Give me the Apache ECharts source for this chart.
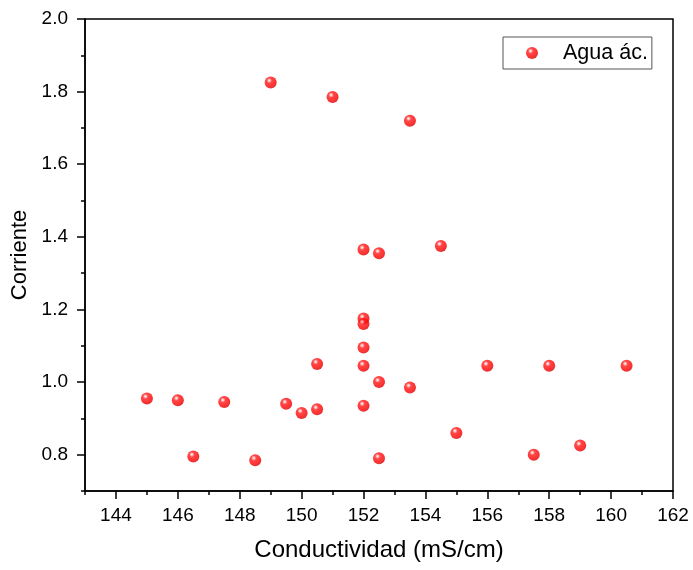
<!DOCTYPE html>
<html><head><meta charset="utf-8">
<script src="https://cdn.jsdelivr.net/npm/echarts@6/dist/echarts.min.js"></script>
<style>html,body{margin:0;padding:0;background:#fff}#c{width:693px;height:570px}</style>
</head><body><div id="c"></div>
<script>
const seriesName = 'Agua ác.';
const conductividad = [145.0,146.0,146.5,147.5,148.5,149.0,149.5,150.0,150.5,150.5,151.0,152.0,152.0,152.0,152.0,152.0,152.0,152.5,152.5,152.5,153.5,153.5,154.5,155.0,156.0,157.5,158.0,159.0,160.5];
const corriente = [0.955,0.95,0.795,0.945,0.785,1.825,0.94,0.915,1.05,0.925,1.785,1.365,1.175,1.16,1.095,1.045,0.935,1.355,1.0,0.79,1.72,0.985,1.375,0.86,1.045,0.80,1.045,0.825,1.045];
const xMajor = [144,146,148,150,152,154,156,158,160,162];
const xMinor = [143,145,147,149,151,153,155,157,159,161];
const yMajor = [0.8,1.0,1.2,1.4,1.6,1.8,2.0];
const yMinor = [0.7,0.9,1.1,1.3,1.5,1.7,1.9];

const font = '"Liberation Sans", Arial, sans-serif';
const chart = echarts.init(document.getElementById('c'), null, {renderer:'canvas'});
const data = conductividad.map((x,i)=>[x, corriente[i]]);
const ballColor = {type:'radial', x:0.38, y:0.33, r:0.72, colorStops:[
  {offset:0, color:'#ffffff'},{offset:0.1, color:'#ffc0c0'},{offset:0.3, color:'#ff1a1a'},{offset:0.7, color:'#ff0000'},{offset:1, color:'#d00000'}]};
chart.setOption({
  animation:false,
  grid:{left:85, right:20, top:19, bottom:79, show:true, borderColor:'#000', borderWidth:1.5, backgroundColor:'transparent'},
  legend:{left:503, top:37, data:[seriesName], itemWidth:52, itemHeight:12, padding:[5,4,5,23],
    borderColor:'#555', borderWidth:1, textStyle:{fontFamily:font, fontSize:21.5, color:'#000'}},
  xAxis:[{type:'value', min:143, max:162, position:'bottom',
    name:'Conductividad (mS/cm)', nameLocation:'middle', nameGap:47,
    nameTextStyle:{fontFamily:font, fontSize:24, color:'#000'},
    axisLine:{show:true, onZero:false, lineStyle:{color:'#000', width:1.5}},
    axisTick:{show:true, inside:false, length:8, lineStyle:{color:'#000', width:1.5}, customValues:xMajor},
    axisLabel:{fontFamily:font, fontSize:19, color:'#000', margin:15, customValues:xMajor},
    splitLine:{show:false}},
   {type:'value', min:143, max:162, position:'bottom', gridIndex:0,
    axisLine:{show:false, onZero:false},
    axisTick:{show:true, length:4, lineStyle:{color:'#000', width:1.5}, customValues:xMinor},
    axisLabel:{show:false, customValues:xMinor}, splitLine:{show:false}}],
  yAxis:[{type:'value', min:0.7, max:2.0, position:'left',
    name:'Corriente', nameLocation:'middle', nameGap:50,
    nameTextStyle:{fontFamily:font, fontSize:22, color:'#000'},
    axisLine:{show:true, onZero:false, lineStyle:{color:'#000', width:1.5}},
    axisTick:{show:true, length:8, lineStyle:{color:'#000', width:1.5}, customValues:yMajor},
    axisLabel:{fontFamily:font, fontSize:19, color:'#000', margin:17, customValues:yMajor, formatter:v=>v.toFixed(1)},
    splitLine:{show:false}},
   {type:'value', min:0.7, max:2.0, position:'left',
    axisLine:{show:false, onZero:false},
    axisTick:{show:true, length:4, lineStyle:{color:'#000', width:1.5}, customValues:yMinor},
    axisLabel:{show:false, customValues:yMinor}, splitLine:{show:false}}],
  series:[{name:seriesName, type:'scatter', data:data, symbol:'circle', symbolSize:12,
    itemStyle:{color:ballColor}}]
});
</script></body></html>
